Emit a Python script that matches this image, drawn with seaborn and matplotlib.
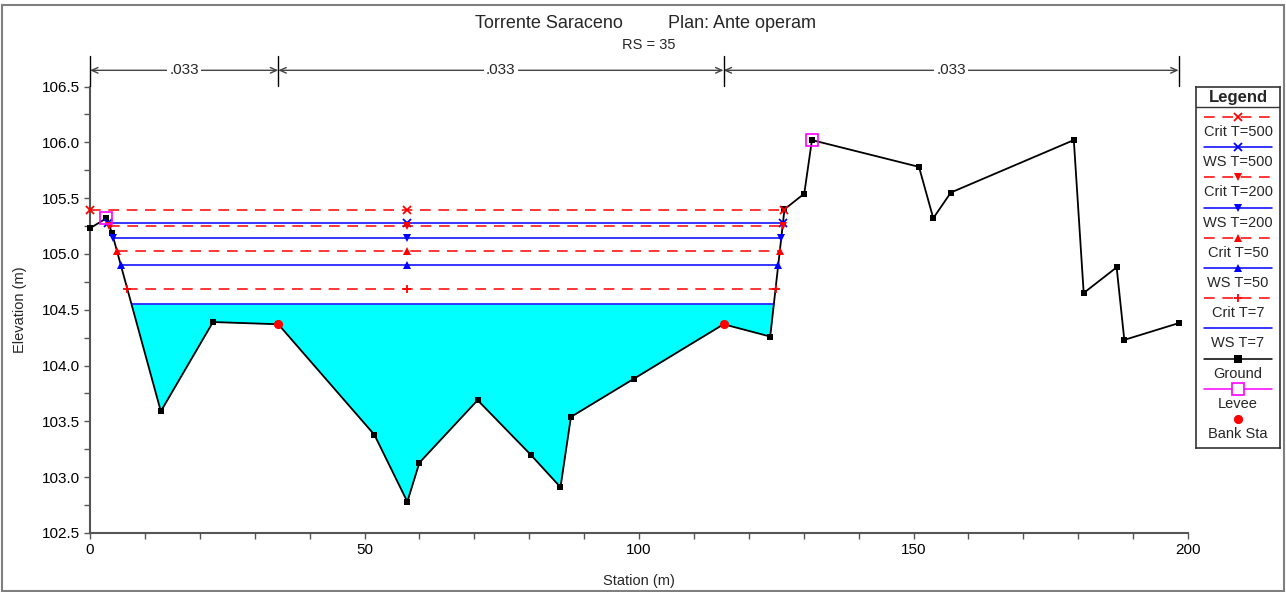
import matplotlib.pyplot as plt
import matplotlib.patches as mpatches
from matplotlib.ticker import MultipleLocator, FormatStrFormatter
import numpy as np
import seaborn as sns

# Ground geometry at RS = 35 (station m, elevation m)
station = [0.0, 3.0, 4.0, 12.9, 22.4, 34.3, 51.8, 57.8, 60.0, 70.6, 80.3, 85.7, 87.6,
           99.0, 115.4, 123.9, 126.5, 130.1, 131.5, 151.0, 153.6, 156.8, 179.2,
           181.0, 187.0, 188.4, 198.3]
elevation = [105.23, 105.32, 105.19, 103.59, 104.39, 104.37, 103.38, 102.78, 103.13,
             103.69, 103.20, 102.91, 103.54, 103.88, 104.37, 104.26, 105.40, 105.54,
             106.02, 105.78, 105.32, 105.55, 106.02, 104.65, 104.88, 104.23, 104.38]
levee_sta = [3.0, 131.5]
bank_sta = [34.3, 115.4]

# Manning n regions
n_breaks = [0.0, 34.3, 115.4, 198.3]
n_values = ['.033', '.033', '.033']

# Water surface profiles
profiles = ['Crit T=500', 'WS T=500', 'Crit T=200', 'WS T=200',
            'Crit T=50', 'WS T=50', 'Crit T=7', 'WS T=7']
levels = [105.39, 105.28, 105.25, 105.14, 105.03, 104.90, 104.69, 104.55]
markers = ['x', 'x', 'v', 'v', '^', '^', '+', None]

RED = '#ff0000'
BLUE = '#0000ff'
MAGENTA = '#ff00ff'
DASH = (0, (7, 5))

sta = np.array(station)
elev = np.array(elevation)
low = int(np.argmin(elev))


def wet_edges(z):
    i = low
    while i > 0 and elev[i - 1] < z:
        i -= 1
    if i == 0:
        xl = sta[0]
    else:
        xl = sta[i - 1] + (z - elev[i - 1]) * (sta[i] - sta[i - 1]) / (elev[i] - elev[i - 1])
    j = low
    while j < len(sta) - 1 and elev[j + 1] < z:
        j += 1
    if j == len(sta) - 1:
        xr = sta[-1]
    else:
        xr = sta[j] + (z - elev[j]) * (sta[j + 1] - sta[j]) / (elev[j + 1] - elev[j])
    return xl, xr


sns.set_style('white')
plt.rcParams['font.family'] = ['Liberation Sans', 'DejaVu Sans']

W, H = 1286, 592
fig = plt.figure(figsize=(W / 100, H / 100), dpi=100)
ax = fig.add_axes([90 / W, (H - 533) / H, (1188 - 90) / W, (533 - 86.5) / H])

# water fill for the lowest profile
xl7, xr7 = wet_edges(levels[-1])
inside = sta[(sta > xl7) & (sta < xr7)]
xs = np.concatenate([[xl7], inside, [xr7]])
ax.fill_between(xs, np.interp(xs, sta, elev), levels[-1], color='#00ffff', lw=0, zorder=1)

# ground
sns.lineplot(x=station, y=elevation, ax=ax, color='black', lw=1.3, marker='s',
             markersize=4.7, markeredgewidth=0, estimator=None, sort=False, zorder=4,
             clip_on=False)

# profiles
for name, z, mk in zip(profiles, levels, markers):
    xl, xr = wet_edges(z)
    crit = name.startswith('Crit')
    c = RED if crit else BLUE
    kw = dict(color=c, lw=1.1, linestyle=DASH if crit else '-')
    if mk:
        kw.update(marker=mk, markersize=5.5, markeredgecolor=c,
                  markeredgewidth=1.3 if mk in 'x+' else 0)
    sns.lineplot(x=[xl, sta[low], xr], y=[z, z, z], ax=ax, estimator=None, sort=False,
                 zorder=5, clip_on=False, **kw)

# levees and bank stations
sns.lineplot(x=levee_sta, y=np.interp(levee_sta, sta, elev), ax=ax, linestyle='none',
             marker='s', markersize=8, markerfacecolor='none', markeredgecolor=MAGENTA,
             markeredgewidth=1.2, estimator=None, sort=False, zorder=6)
sns.lineplot(x=bank_sta, y=np.interp(bank_sta, sta, elev), ax=ax, linestyle='none',
             marker='o', markersize=6.6, color=RED, markeredgewidth=0,
             estimator=None, sort=False, zorder=6)

ax.set_xlim(0, 200)
ax.set_ylim(102.5, 106.5)
ax.xaxis.set_major_locator(MultipleLocator(50))
ax.xaxis.set_minor_locator(MultipleLocator(10))
ax.yaxis.set_major_locator(MultipleLocator(0.5))
ax.yaxis.set_minor_locator(MultipleLocator(0.25))
ax.yaxis.set_major_formatter(FormatStrFormatter('%.1f'))
ax.tick_params(which='both', direction='out', length=4, width=1, color='#555555',
               labelsize=11, labelcolor='black', pad=3)
ax.tick_params(axis='both', which='both', bottom=True, left=True)
for s in ['top', 'right']:
    ax.spines[s].set_visible(False)
for s in ['left', 'bottom']:
    ax.spines[s].set_color('#555555')
    ax.spines[s].set_linewidth(1.5)

ax.set_xlabel('Station (m)', fontsize=10.5, va='center')
ax.set_ylabel('Elevation (m)', fontsize=10.5, va='center')
ax.xaxis.set_label_coords(0.5, -0.107)
ax.yaxis.set_label_coords(-0.064, 0.5)

# Manning n bar above the plot
y_bar, y_t0, y_t1 = 106.645, 106.503, 106.772
for s in n_breaks:
    ax.plot([s, s], [y_t0, y_t1], color='black', lw=1, clip_on=False, zorder=7)
for a, b, n in zip(n_breaks[:-1], n_breaks[1:], n_values):
    ax.annotate('', xy=(a, y_bar), xytext=(b, y_bar), annotation_clip=False,
                arrowprops=dict(arrowstyle='<->, head_length=0.45, head_width=0.2',
                                color='#444444', lw=1, shrinkA=0, shrinkB=0))
    ax.text((a + b) / 2, y_bar, n, ha='center', va='center', fontsize=11, zorder=10,
            clip_on=False, bbox=dict(fc='white', ec='none', pad=1.5))

# titles
fig.text(623 / W, 1 - 24 / H, 'Torrente Saraceno', ha='right', va='center', fontsize=13)
fig.text(668 / W, 1 - 24 / H, 'Plan: Ante operam', ha='left', va='center', fontsize=13)
fig.text(649 / W, 1 - 45 / H, 'RS = 35', ha='center', va='center', fontsize=10.5)

# legend box drawn in pixel space
lx0, lx1, ly0, ly1 = 1196, 1280, 86.7, 448.3
lax = fig.add_axes([lx0 / W, (H - ly1) / H, (lx1 - lx0) / W, (ly1 - ly0) / H])
lax.set_xlim(lx0, lx1)
lax.set_ylim(ly1, ly0)
lax.set_xticks([])
lax.set_yticks([])
for s in lax.spines.values():
    s.set_color('#333333')
    s.set_linewidth(1.2)
lax.axhline(107.3, color='#333333', lw=1)
lax.text(1238, 97.5, 'Legend', ha='center', va='center', fontsize=12, fontweight='bold')

entries = list(zip(profiles, markers)) + [('Ground', 's'), ('Levee', 's'), ('Bank Sta', 'o')]
for k, (name, mk) in enumerate(entries):
    y = 117 + 30.2 * k
    if name.startswith('Crit'):
        c, ls = RED, DASH
    elif name.startswith('WS'):
        c, ls = BLUE, '-'
    elif name == 'Ground':
        c, ls = 'black', '-'
    elif name == 'Levee':
        c, ls = MAGENTA, '-'
    else:
        c, ls = RED, 'none'
    if ls != 'none':
        lax.plot([1204, 1272], [y, y], color=c, lw=1.1, linestyle=ls)
    if mk:
        if name == 'Levee':
            lax.plot([1238], [y], marker='s', markersize=8, mfc='white', mec=MAGENTA, mew=1.2)
        elif name == 'Bank Sta':
            lax.plot([1238], [y], marker='o', markersize=6.6, color=RED, mew=0)
        else:
            lax.plot([1238], [y], marker=mk, markersize=5.5, color=c,
                     mew=1.3 if mk in 'x+' else 0)
    lax.text(1238, y + 15, name, ha='center', va='center', fontsize=10.5)

# outer frame
fig.patches.append(mpatches.Rectangle((2 / W, 1 / H), 1282 / W, 586 / H,
                                      transform=fig.transFigure, fill=False,
                                      ec='#7f7f7f', lw=1.5))

fig.savefig('out.png', dpi=100)
